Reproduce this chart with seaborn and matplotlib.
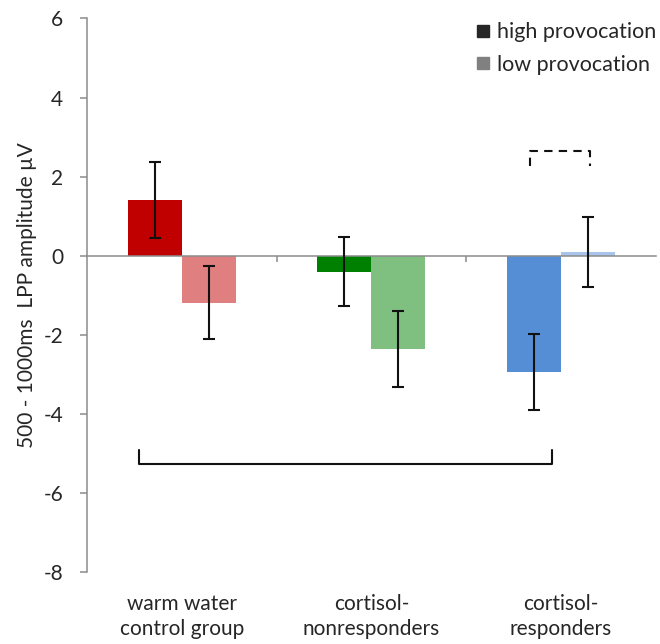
import matplotlib
matplotlib.use("Agg")
import matplotlib.pyplot as plt
from matplotlib.lines import Line2D
import pandas as pd
import seaborn as sns

groups = ["warm water\ncontrol group", "cortisol-\nnonresponders", "cortisol-\nresponders"]
conditions = ["high provocation", "low provocation"]
high_vals = [1.41, -0.40, -2.93]
low_vals = [-1.19, -2.35, 0.09]
high_err = [0.96, 0.88, 0.96]
low_err = [0.92, 0.96, 0.88]
high_colors = ["#C00000", "#008000", "#558ED5"]
low_colors = ["#DF7F7F", "#7FBF7F", "#A9C4EA"]
legend_colors = ["#262626", "#808080"]

df = pd.DataFrame({
    "group": groups * 2,
    "condition": [conditions[0]] * 3 + [conditions[1]] * 3,
    "value": high_vals + low_vals,
})

sns.set_style("white")
plt.rcParams["font.family"] = ["Lato", "DejaVu Sans"]
axis_gray = "#8C8C8C"
fs = 15

fig = plt.figure(figsize=(6.6, 6.44), dpi=100)
ax = fig.add_axes([0.1318, 0.1118, 0.8618, 0.8595])

sns.barplot(data=df, x="group", y="value", hue="condition", order=groups,
            hue_order=conditions, width=0.57, gap=0, errorbar=None,
            saturation=1, legend=False, ax=ax)

for cont, cols, errs in zip(ax.containers, [high_colors, low_colors], [high_err, low_err]):
    for bar, c, e in zip(cont, cols, errs):
        bar.set_facecolor(c)
        bar.set_edgecolor("none")
        xc = bar.get_x() + bar.get_width() / 2
        ax.errorbar(xc, bar.get_y() + bar.get_height(), yerr=e, fmt="none",
                    ecolor="#111111", elinewidth=1.5, capsize=4, capthick=1.5, zorder=5)

ax.set_xlim(-0.5, 2.5)
ax.set_ylim(-8, 6)
ax.set_yticks(range(-8, 7, 2))
ax.set_yticklabels([str(v) for v in range(-8, 7, 2)])

for s in ["top", "right"]:
    ax.spines[s].set_visible(False)
ax.spines["left"].set_color(axis_gray)
ax.spines["left"].set_linewidth(1.1)
ax.spines["bottom"].set_position(("data", 0))
ax.spines["bottom"].set_color(axis_gray)
ax.spines["bottom"].set_linewidth(1.1)

ax.tick_params(axis="y", direction="out", length=5, width=1.1, color=axis_gray,
               pad=12, labelsize=fs, left=True)
ax.set_xticks([0.5, 1.5])
ax.set_xticklabels([])
ax.tick_params(axis="x", direction="out", length=4, width=1.1, color=axis_gray, bottom=True)

sec = ax.secondary_xaxis(0)
sec.set_xticks(range(len(groups)))
sec.set_xticklabels(groups, linespacing=1.3)
sec.tick_params(length=0, pad=16, labelsize=fs)
sec.spines["bottom"].set_visible(False)

ax.set_xlabel("")
ax.set_ylabel("500 - 1000ms  LPP amplitude µV", fontsize=15)
ax.yaxis.set_label_coords(-0.088, 0.5)

# significance brackets
ax.plot([-0.227, -0.227, 1.953, 1.953], [-4.92, -5.26, -5.26, -4.92],
        color="#111111", lw=1.5, solid_joinstyle="round")
ax.plot([1.836, 1.836, 2.153, 2.153], [2.27, 2.64, 2.64, 2.27],
        color="#111111", lw=1.5, ls=(0, (4, 3)))

handles = [Line2D([], [], marker="s", ls="none", markersize=8.5,
                  markerfacecolor=c, markeredgecolor=c) for c in legend_colors]
ax.legend(handles, conditions, loc="upper right", bbox_to_anchor=(1.0, 0.993),
          frameon=False, fontsize=15.5, handletextpad=0.3, labelspacing=0.58,
          handlelength=0.7, borderaxespad=0, borderpad=0)

fig.savefig("out.png", dpi=100)
